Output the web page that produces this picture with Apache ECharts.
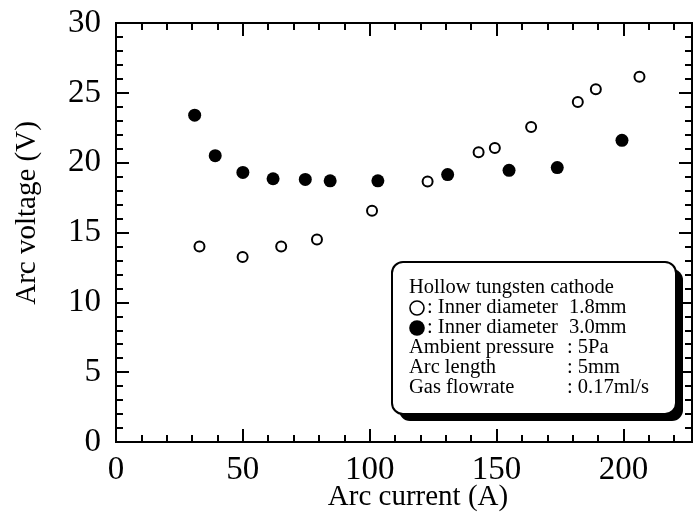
<!DOCTYPE html>
<html>
<head>
<meta charset="utf-8">
<script src="https://cdn.jsdelivr.net/npm/echarts@6/dist/echarts.min.js"></script>
<style>
  html, body { margin: 0; padding: 0; background: #fff; }
  #chart { width: 693px; height: 525px; }
</style>
</head>
<body>
<div id="chart"></div>
<script>
// Arc current (A) and arc voltage (V), inner diameter 1.8 mm (open circles)
var current18 = [32.9, 49.9, 65.1, 79.2, 100.9, 122.8, 142.9, 149.3, 163.6, 182.0, 189.1, 206.3];
var voltage18 = [14.0, 13.25, 14.0, 14.5, 16.55, 18.65, 20.75, 21.05, 22.55, 24.35, 25.25, 26.15];

// Inner diameter 3.0 mm (filled circles)
var current30 = [31.0, 39.1, 50.0, 61.9, 74.6, 84.4, 103.2, 130.7, 154.9, 173.9, 199.4];
var voltage30 = [23.4, 20.5, 19.3, 18.85, 18.8, 18.7, 18.7, 19.15, 19.45, 19.65, 21.6];

// Axis ranges and tick steps
var xRange = [0, 227];
var yRange = [0, 30];
var xMajor = 50, xMinor = 10;
var yMajor = 5, yMinor = 1;

// Conditions box text
var boxTitle = 'Hollow tungsten cathode';
var boxLabels = [': Inner diameter', ': Inner diameter', 'Ambient pressure', 'Arc length', 'Gas flowrate'];
var boxValues = ['1.8mm', '3.0mm', ': 5Pa', ': 5mm', ': 0.17ml/s'];

function pairs(xs, ys) {
  return xs.map(function (x, i) { return [x, ys[i]]; });
}

var FONT = '"Liberation Serif", "Times New Roman", serif';
var tickStyle = { color: '#000', width: 2 };

function xAxisDef(position, step, len, labels) {
  return {
    type: 'value', position: position, min: xRange[0], max: xRange[1], interval: step,
    axisLine: { show: true, onZero: false, lineStyle: { color: '#000', width: 2 } },
    axisTick: { show: true, inside: true, length: len, lineStyle: tickStyle },
    axisLabel: labels ? {
      show: true, margin: 12, color: '#000', fontFamily: FONT, fontSize: 33,
      showMaxLabel: false
    } : { show: false },
    splitLine: { show: false }
  };
}

function yAxisDef(position, step, len, labels) {
  return {
    type: 'value', position: position, min: yRange[0], max: yRange[1], interval: step,
    axisLine: { show: true, onZero: false, lineStyle: { color: '#000', width: 2 } },
    axisTick: { show: true, inside: true, length: len, lineStyle: tickStyle },
    axisLabel: labels ? {
      show: true, margin: 15, color: '#000', fontFamily: FONT, fontSize: 33
    } : { show: false },
    splitLine: { show: false }
  };
}

// Conditions box: shadow, frame, text lines and the two marker glyphs
var boxX = 392, boxY = 262, boxW = 284, boxH = 152;
var textX = 409, valueX = 567, firstBase = 295, lineStep = 20;
var boxFont = '20.5px ' + FONT;
var boxElements = [
  { type: 'rect', shape: { x: boxX + 7, y: boxY + 7, width: boxW, height: boxH, r: 11 },
    style: { fill: '#000' } },
  { type: 'rect', shape: { x: boxX, y: boxY, width: boxW, height: boxH, r: 11 },
    style: { fill: '#fff', stroke: '#000', lineWidth: 2 } },
  { type: 'text', x: textX, y: firstBase - 7,
    style: { text: boxTitle, font: boxFont, fill: '#000', verticalAlign: 'middle' } }
];
boxLabels.forEach(function (label, i) {
  var base = firstBase + lineStep * (i + 1);
  var lx = i < 2 ? textX + 18 : textX;
  var vx = i < 2 ? valueX + 2 : valueX;
  boxElements.push({ type: 'text', x: lx, y: base - 7,
    style: { text: label, font: boxFont, fill: '#000', verticalAlign: 'middle' } });
  boxElements.push({ type: 'text', x: vx, y: base - 7,
    style: { text: boxValues[i], font: boxFont, fill: '#000', verticalAlign: 'middle' } });
  if (i === 0) {
    boxElements.push({ type: 'circle', shape: { cx: textX + 8, cy: base - 7, r: 7 },
      style: { fill: '#fff', stroke: '#000', lineWidth: 1.6 } });
  } else if (i === 1) {
    boxElements.push({ type: 'circle', shape: { cx: textX + 8, cy: base - 7, r: 7.8 },
      style: { fill: '#000' } });
  }
});

var chart = echarts.init(document.getElementById('chart'), null, { renderer: 'canvas' });
chart.setOption({
  animation: false,
  backgroundColor: '#fff',
  grid: { left: 116, right: 1, top: 23, bottom: 83, containLabel: false },
  xAxis: [
    xAxisDef('bottom', xMinor, 7, false),
    xAxisDef('bottom', xMajor, 13, true),
    xAxisDef('top', xMinor, 7, false),
    xAxisDef('top', xMajor, 13, false)
  ],
  yAxis: [
    yAxisDef('left', yMinor, 7, false),
    yAxisDef('left', yMajor, 13, true),
    yAxisDef('right', yMinor, 7, false),
    yAxisDef('right', yMajor, 13, false)
  ],
  series: [
    {
      name: 'Inner diameter 1.8mm', type: 'scatter', xAxisIndex: 0, yAxisIndex: 0,
      symbol: 'circle', symbolSize: 10,
      itemStyle: { color: '#fff', borderColor: '#000', borderWidth: 2, opacity: 1 },
      data: pairs(current18, voltage18)
    },
    {
      name: 'Inner diameter 3.0mm', type: 'scatter', xAxisIndex: 0, yAxisIndex: 0,
      symbol: 'circle', symbolSize: 13,
      itemStyle: { color: '#000', opacity: 1 },
      data: pairs(current30, voltage30)
    }
  ],
  graphic: [
    { type: 'text', x: 418, y: 497,
      style: { text: 'Arc current (A)', font: '29px ' + FONT, fill: '#000',
        align: 'center', verticalAlign: 'middle' } },
    { type: 'text', x: 27, y: 213, rotation: Math.PI / 2,
      style: { text: 'Arc voltage (V)', font: '29px ' + FONT, fill: '#000',
        align: 'center', verticalAlign: 'middle' } },
    { type: 'group', children: boxElements }
  ]
});
</script>
</body>
</html>
